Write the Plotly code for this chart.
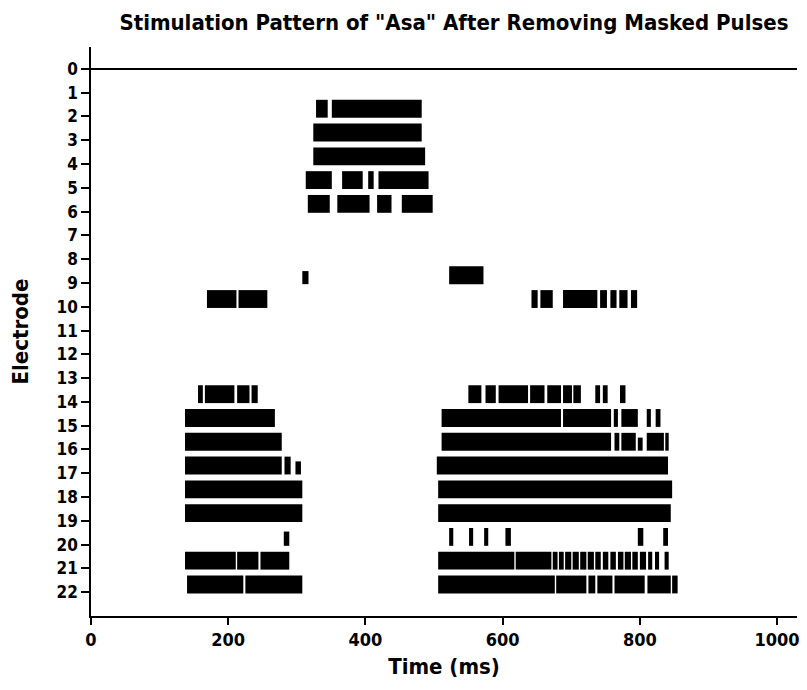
import plotly.graph_objects as go

# Electrode rows shown on the y axis
electrode_ticks = list(range(0, 23))
time_ticks = [0, 200, 400, 600, 800, 1000]

# Pulse-train segments per electrode: [start_ms, end_ms] (optional third value = relative amplitude)
e02 = [[328, 345], [351, 482]]
e03 = [[324, 482]]
e04 = [[324, 487]]
e05 = [[313, 351], [366, 396], [404, 412], [419, 492]]
e06 = [[316, 348], [359, 406], [417, 438], [453, 498]]
e09 = [[308, 317, 0.5], [522, 572]]
e10 = [[169, 212], [215, 257], [642, 651], [655, 673], [688, 738], [742, 752],
       [757, 766], [770, 782], [787, 796]]
e14 = [[156, 163], [166, 209], [213, 231], [234, 243],
       [550, 569], [575, 590], [594, 637], [640, 661], [665, 685], [688, 701],
       [703, 714], [735, 742], [746, 753], [771, 779]]
e15 = [[137, 268], [511, 685], [688, 758], [762, 768], [773, 797], [810, 816], [823, 830]]
e16 = [[137, 278], [511, 758], [763, 770], [773, 794], [797, 804, 0.5], [810, 835], [837, 842]]
e17 = [[137, 278], [282, 291], [298, 306, 0.5], [504, 841]]
e18 = [[137, 308], [506, 847]]
e19 = [[137, 308], [506, 845]]
e20 = [[281, 289, 0.55], [522, 528], [551, 557], [573, 579], [604, 612], [797, 805], [834, 841]]
e21 = [[137, 211], [213, 244], [247, 289],
       [506, 617], [619, 671], [673, 680], [682, 689], [691, 700], [702, 711], [713, 722],
       [724, 733], [735, 743], [746, 754], [757, 765], [768, 776], [778, 787], [789, 797],
       [800, 809], [812, 818], [822, 828], [836, 842]]
e22 = [[140, 222], [225, 308], [506, 676], [678, 722], [725, 735], [738, 760],
       [763, 807], [811, 845], [847, 855]]

rows = {2: e02, 3: e03, 4: e04, 5: e05, 6: e06, 9: e09, 10: e10, 14: e14, 15: e15,
        16: e16, 17: e17, 18: e18, 19: e19, 20: e20, 21: e21, 22: e22}

FULL = 0.70
ys, lens, bases, widths, offsets = [], [], [], [], []
for e, segs in rows.items():
    for seg in segs:
        s, t = seg[0], seg[1]
        h = FULL if len(seg) < 3 else seg[2]
        ys.append(e)
        bases.append(s)
        lens.append(t - s)
        widths.append(h + 0.05)
        offsets.append(-h)

FONT = "Liberation Sans Narrow, Arial Narrow, DejaVu Sans Condensed, sans-serif"

fig = go.Figure()
fig.add_trace(go.Bar(
    y=ys, x=lens, base=bases, orientation="h",
    width=widths, offset=offsets,
    marker=dict(color="black", line=dict(width=0)),
    hoverinfo="skip", showlegend=False,
))

fig.update_layout(
    width=807, height=690,
    margin=dict(l=91, r=7, t=47, b=74),
    paper_bgcolor="white", plot_bgcolor="white",
    barmode="overlay",
    font=dict(family=FONT, size=16, color="black", weight="bold"),
    title=dict(text='Stimulation Pattern of "Asa" After Removing Masked Pulses',
               x=0.5625, xanchor="center", y=0.968, yanchor="middle",
               font=dict(family=FONT, size=22, color="black", weight="bold")),
)

fig.update_xaxes(
    range=[0, 1029], tickvals=time_ticks, ticktext=[str(v) for v in time_ticks],
    showgrid=False, zeroline=False,
    showline=True, linecolor="black", linewidth=1.5,
    ticks="outside", ticklen=7, tickwidth=1.5, tickcolor="black",
    tickfont=dict(family=FONT, size=18, color="black", weight="bold"),
    title=dict(text="Time (ms)", standoff=9,
               font=dict(family=FONT, size=22, color="black", weight="bold")),
)
fig.update_yaxes(
    range=[23, -0.92], tickvals=electrode_ticks, ticktext=[str(v) for v in electrode_ticks],
    showgrid=False,
    zeroline=True, zerolinecolor="black", zerolinewidth=1.5,
    showline=True, linecolor="black", linewidth=1.5,
    ticks="outside", ticklen=8, tickwidth=1.5, tickcolor="black",
    tickfont=dict(family=FONT, size=17, color="black", weight="bold"),
    title=dict(text="Electrode", standoff=22,
               font=dict(family=FONT, size=22, color="black", weight="bold")),
)

fig.write_html("out.html")
